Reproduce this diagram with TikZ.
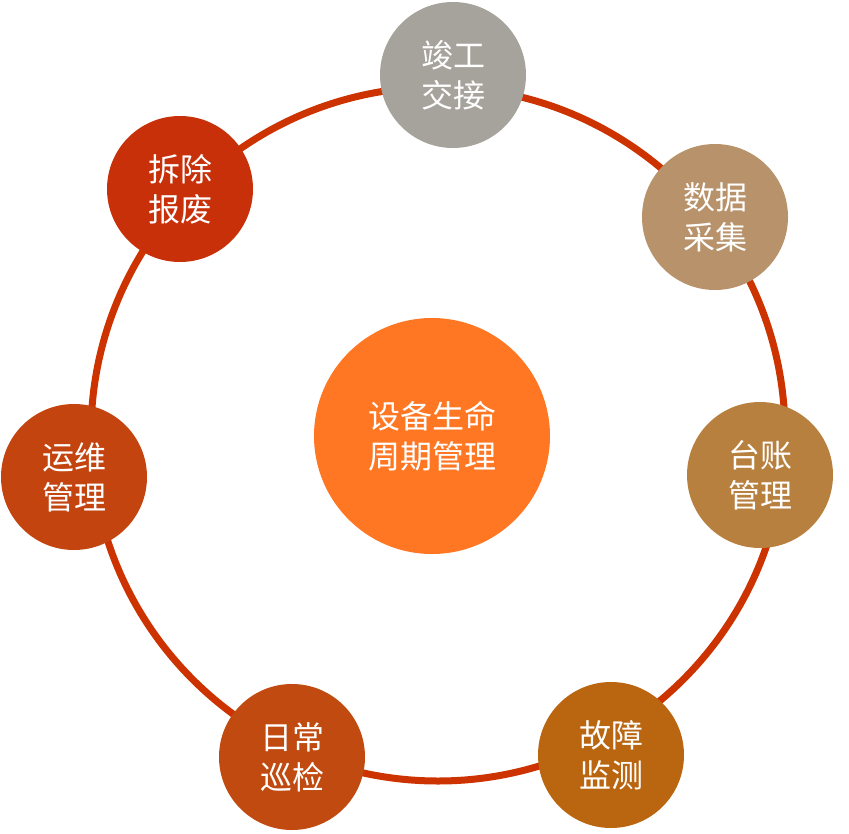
\documentclass[tikz,border=0pt]{standalone}
\usepackage{fontspec}
\setmainfont{Noto Sans CJK SC}
\definecolor{ring}{HTML}{CC3300}
\definecolor{cc}{HTML}{FF7722}
\definecolor{c1}{HTML}{A6A29C}
\definecolor{c2}{HTML}{B8926A}
\definecolor{c3}{HTML}{B8803F}
\definecolor{c4}{HTML}{BA6610}
\definecolor{c5}{HTML}{C04A10}
\definecolor{c6}{HTML}{C44410}
\definecolor{c7}{HTML}{C8300A}
\begin{document}
\begin{tikzpicture}[x=1pt,y=-1pt,
  bub/.style={circle,minimum size=146pt,inner sep=0pt,fill=#1,text=white,align=center,font=\fontsize{32}{40}\selectfont}]
\useasboundingbox (0,0) rectangle (849,833);
\coordinate (o) at (438,434);
\draw[ring,line width=7pt] (o) circle (347);
\node[bub=cc,minimum size=236pt] (c) at (432,436) {设备生命\\周期管理};
\node[bub=c1] (n1) at (453,75) {竣工\\交接};
\node[bub=c2] (n2) at (715,217) {数据\\采集};
\node[bub=c3] (n3) at (760,475) {台账\\管理};
\node[bub=c4] (n4) at (611,755) {故障\\监测};
\node[bub=c5] (n5) at (292,757) {日常\\巡检};
\node[bub=c6] (n6) at (74,477) {运维\\管理};
\node[bub=c7] (n7) at (180,189) {拆除\\报废};
\end{tikzpicture}
\end{document}
